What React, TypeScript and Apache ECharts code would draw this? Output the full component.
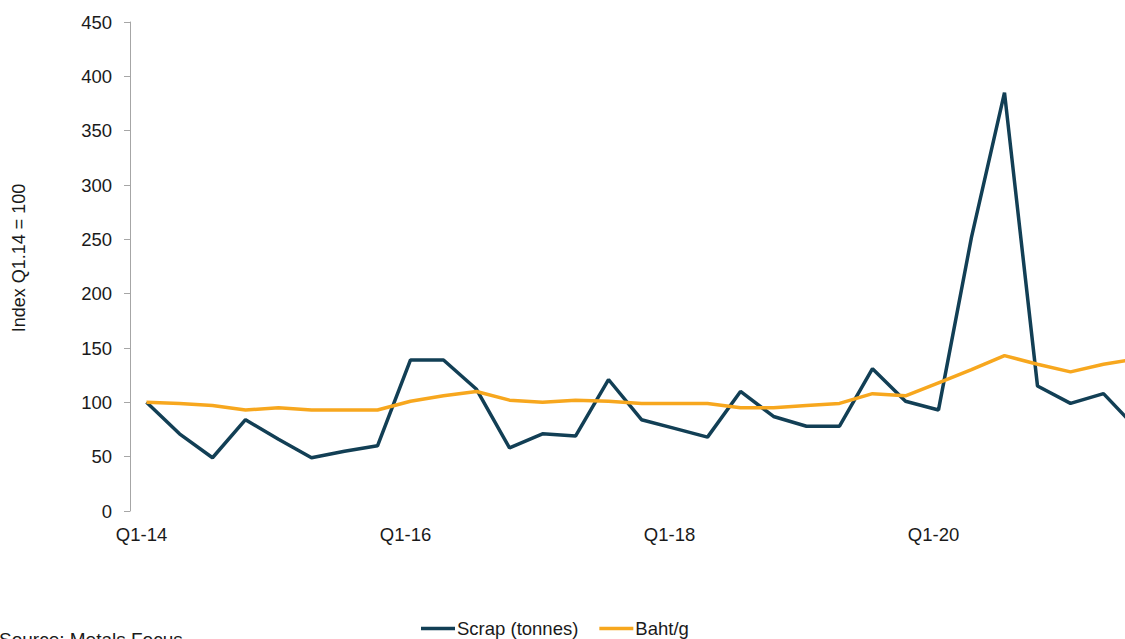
import { useEffect, useRef } from "react";
import * as echarts from "echarts";

// Quarterly categories, Q1-14 to Q3-21
const quarters = [
  "Q1-14", "Q2-14", "Q3-14", "Q4-14",
  "Q1-15", "Q2-15", "Q3-15", "Q4-15",
  "Q1-16", "Q2-16", "Q3-16", "Q4-16",
  "Q1-17", "Q2-17", "Q3-17", "Q4-17",
  "Q1-18", "Q2-18", "Q3-18", "Q4-18",
  "Q1-19", "Q2-19", "Q3-19", "Q4-19",
  "Q1-20", "Q2-20", "Q3-20", "Q4-20",
  "Q1-21", "Q2-21", "Q3-21",
];

// Index values, Q1.14 = 100
const scrapTonnes = [
  100, 71, 49, 84, 66, 49, 55, 60,
  139, 139, 112, 58, 71, 69, 121, 84,
  76, 68, 110, 87, 78, 78, 131, 101,
  93, 252, 385, 115, 99, 108, 76,
];

const bahtPerGram = [
  100, 99, 97, 93, 95, 93, 93, 93,
  101, 106, 110, 102, 100, 102, 101, 99,
  99, 99, 95, 95, 97, 99, 108, 106,
  118, 130, 143, 135, 128, 135, 140,
];

const seriesNames = ["Scrap (tonnes)", "Baht/g"];
const seriesColors = ["#123f55", "#f7a71e"];

const FONT = "'Liberation Sans', Arial, sans-serif";

export default function App() {
  const ref = useRef<HTMLDivElement>(null);

  useEffect(() => {
    if (!ref.current) return;
    const chart = echarts.init(ref.current, undefined, { renderer: "svg" });
    chart.setOption({
      animation: false,
      textStyle: { fontFamily: FONT },
      grid: { left: 130, right: 47, top: 22, bottom: 128, containLabel: false },
      legend: {
        left: 421,
        top: 619,
        padding: 0,
        itemWidth: 34,
        itemHeight: 3.5,
        itemGap: 21,
        icon: "rect",
        textStyle: {
          fontFamily: FONT,
          fontSize: 18.5,
          color: "#1a1a1a",
          padding: [0, 0, 0, -3],
        },
        data: seriesNames,
      },
      xAxis: {
        type: "category",
        data: quarters,
        boundaryGap: true,
        axisLine: { show: false },
        axisTick: { show: false },
        axisLabel: {
          interval: 7,
          margin: 14,
          fontSize: 18.5,
          color: "#1a1a1a",
          fontFamily: FONT,
          padding: [0, 10, 0, 0],
        },
      },
      yAxis: {
        type: "value",
        min: 0,
        max: 450,
        interval: 50,
        splitLine: { show: false },
        axisLine: { show: true, lineStyle: { color: "#a6a6a6", width: 1 } },
        axisTick: { show: true, length: 6, lineStyle: { color: "#a6a6a6" } },
        axisLabel: {
          margin: 18,
          fontSize: 18.5,
          color: "#1a1a1a",
          fontFamily: FONT,
        },
      },
      graphic: [
        {
          type: "text",
          x: 19,
          y: 258,
          rotation: Math.PI / 2,
          style: {
            text: "Index Q1.14 = 100",
            fontFamily: FONT,
            fontSize: 18,
            fill: "#1a1a1a",
            textAlign: "center",
            textVerticalAlign: "middle",
          },
        },
        {
          type: "text",
          x: -1,
          y: 630,
          style: {
            text: "Source: Metals Focus",
            fontFamily: FONT,
            fontSize: 19,
            fill: "#1a1a1a",
            textAlign: "left",
            textVerticalAlign: "top",
          },
        },
      ],
      series: [
        {
          name: seriesNames[0],
          type: "line",
          data: scrapTonnes,
          showSymbol: false,
          symbol: "none",
          lineStyle: { color: seriesColors[0], width: 3.5 },
          itemStyle: { color: seriesColors[0] },
        },
        {
          name: seriesNames[1],
          type: "line",
          data: bahtPerGram,
          showSymbol: false,
          symbol: "none",
          lineStyle: { color: seriesColors[1], width: 3.5 },
          itemStyle: { color: seriesColors[1] },
        },
      ],
    });
    return () => chart.dispose();
  }, []);

  return (
    <div
      style={{
        position: "fixed",
        left: 0,
        top: 0,
        width: 1125,
        height: 639,
        overflow: "hidden",
        background: "#ffffff",
      }}
    >
      <div ref={ref} style={{ width: 1200, height: 639 }} />
    </div>
  );
}
